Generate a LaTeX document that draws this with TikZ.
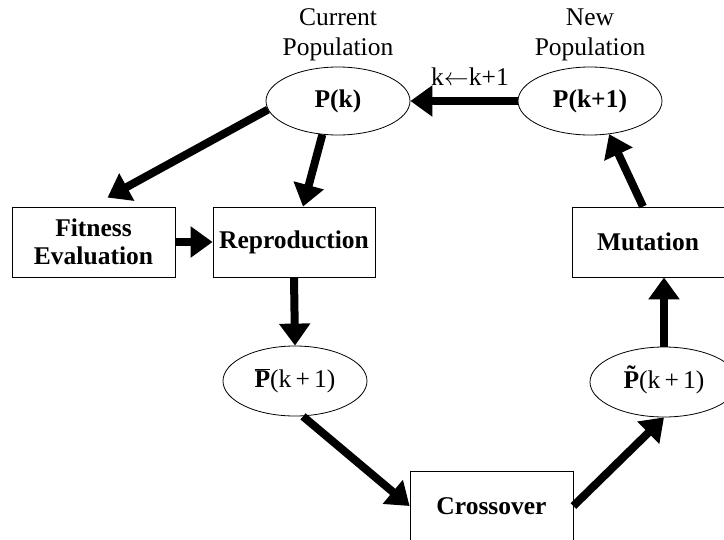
\documentclass[tikz,border=0pt]{standalone}
\usepackage{fontspec}
\setmainfont{Liberation Serif}
\usepackage{tikz}
\usetikzlibrary{positioning,arrows.meta,shapes.geometric}

\newcommand{\tildeP}{\ooalign{\bfseries P\cr\hidewidth\raisebox{0.2em}{\bfseries\char"02DC}\hidewidth\cr}}

\begin{document}
\begin{tikzpicture}[x=1pt,y=-1pt,every node/.style={font=\fontsize{25.5}{30}\selectfont,inner sep=0pt},
	box/.style={rectangle,draw=black,line width=0.8pt,minimum width=163pt,minimum height=70pt,align=center,font=\fontsize{25.5}{28}\selectfont\bfseries},
	pop/.style={ellipse,draw=black,line width=0.8pt,minimum width=144pt,minimum height=70pt},
	arr/.style={line width=8pt,-{Triangle[length=22pt,width=30pt]}}]

		\useasboundingbox (0,0) rectangle (724,539);

		%population nodes
		\node[pop,minimum height=68pt] (pk) at (338,101) {\textbf{P(k)}};
		\node[pop,minimum height=68pt] (pk1) at (590,101) {\textbf{P(k+1)}};
		\node[pop] (pbar) at (295,381) {$\overline{\hbox{\bfseries P}}$(k\,+\,1)};
		\node[pop,minimum width=148pt] (ptil) at (664,382) {\tildeP(k\,+\,1)};

		%operator nodes
		\node[box] (fit) at (93.5,242) {Fitness\\Evaluation};
		\node[box,minimum width=162pt] (rep) at (294,242) {Reproduction};
		\node[box,minimum width=152pt] (mut) at (648,242) {Mutation};
		\node[box] (cross) at (491.5,506) {Crossover};

		%labels
		\node[align=center] (cur) at (338,35) {Current\\Population};
		\node[align=center] (new) at (590,35) {New\\Population};
		\node (inc) at (470,77) {k$\leftarrow$k+1};

		%edges
		\draw[arr] (pk.187) -- ([xshift=14pt,yshift=9pt]fit.north);
		\draw[arr] (pk.245) -- ([xshift=9pt]rep.north);
		\draw[arr] (fit.east) -- (rep.west);
		\draw[arr] (rep.south) -- (pbar.north);
		\draw[arr] ([xshift=8pt]pbar.south) -- (cross.west);
		\draw[arr] (cross.east) -- (ptil.south);
		\draw[arr] (ptil.north) -- (ptil.north |- mut.south);
		\draw[arr] ([xshift=-5pt]mut.north) -- (pk1.300);
		\draw[arr] (pk1.west) -- (pk.east);

\end{tikzpicture}
\end{document}
